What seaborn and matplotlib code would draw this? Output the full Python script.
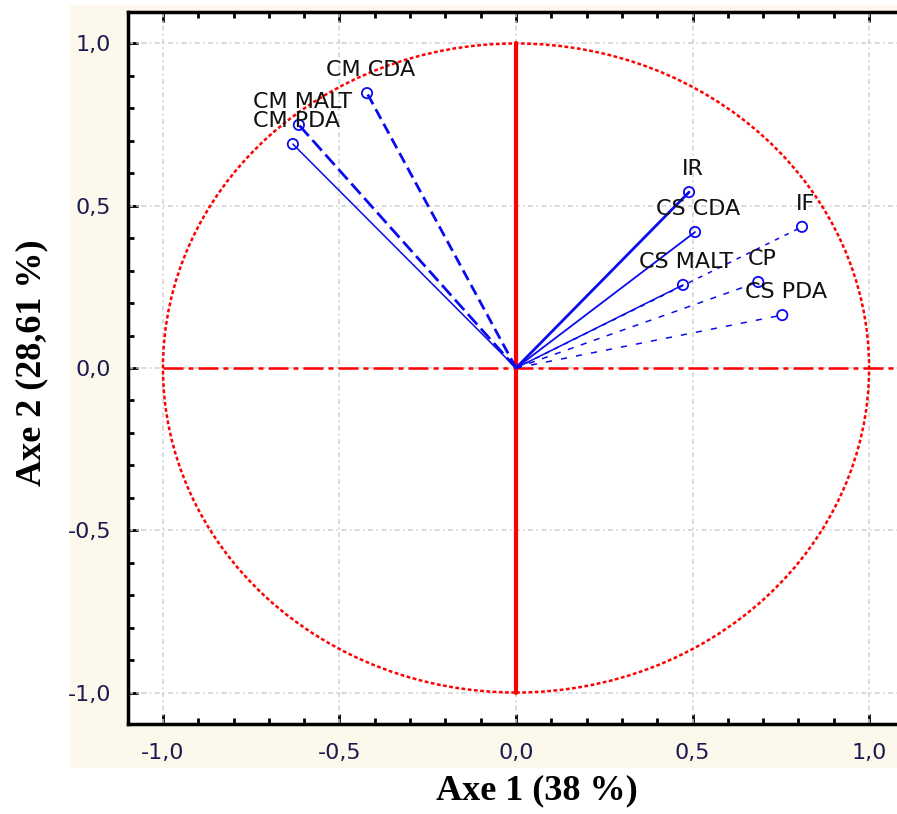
import numpy as np
import pandas as pd
import matplotlib
matplotlib.use("Agg")
import matplotlib.pyplot as plt
from matplotlib.patches import Circle, Rectangle
from matplotlib.ticker import MultipleLocator, FuncFormatter
import seaborn as sns

# ---- data ----
variables = ["CM CDA", "CM MALT", "CM PDA", "IR", "CS CDA", "IF", "CS MALT", "CP", "CS PDA"]
axe1 = [-0.422, -0.615, -0.632, 0.490, 0.507, 0.810, 0.473, 0.686, 0.754]
axe2 = [0.847, 0.749, 0.690, 0.542, 0.419, 0.435, 0.256, 0.265, 0.163]
tick_values = [-1.0, -0.5, 0.0, 0.5, 1.0]
xlabel = "Axe 1 (38 %)"
ylabel = "Axe 2 (28,61 %)"

# ---- styles ----
line_styles = {
    "CM CDA": ((0, (4, 2)), 2.0),
    "CM MALT": ((0, (5, 2)), 2.0),
    "CM PDA": ("-", 1.1),
    "IR": ("-", 2.0),
    "CS CDA": ("-", 1.3),
    "IF": ((0, (3, 4)), 1.1),
    "CS MALT": ("-", 1.1),
    "CP": ((0, (4, 5)), 1.1),
    "CS PDA": ((0, (4, 6)), 1.1),
}
BLUE = "#0a0af0"
RED = "#ff0000"

sns.set_style("ticks")
plt.rcParams["font.family"] = ["DejaVu Sans"]

fig = plt.figure(figsize=(8.97, 8.14), dpi=100)
fig.patch.set_facecolor("white")
fig.patches.append(Rectangle((70 / 897, 46 / 814), 1 - 70 / 897, (809 - 46) / 814,
                             transform=fig.transFigure, facecolor="#fdf8ec",
                             edgecolor="none", zorder=-10))

ax = fig.add_axes([128 / 897, 90 / 814, (897 - 128) / 897, (802 - 90) / 814])
ax.set_zorder(1)
ax.set_facecolor("white")
ax.set_xlim(-1.099, 1.079)
ax.set_ylim(-1.097, 1.097)

# grid
for v in tick_values:
    ax.axvline(v, color="#d2d2d2", lw=1.2, ls=(0, (3, 2, 1, 2)), zorder=1)
    ax.axhline(v, color="#d2d2d2", lw=1.2, ls=(0, (3, 2, 1, 2)), zorder=1)

# unit circle and axes lines
ax.add_patch(Circle((0, 0), 1.0, fill=False, edgecolor=RED, lw=1.8,
                    ls=(0, (1.5, 1)), zorder=2))
ax.plot([-1.0, 1.1], [0, 0], color=RED, lw=1.8, ls=(0, (8, 2, 2, 2)), zorder=2)
ax.plot([0, 0], [-1.0, 1.0], color=RED, lw=3, zorder=2)

# vectors
df = pd.DataFrame({"var": variables, "axe1": axe1, "axe2": axe2})
for name, x, y in zip(variables, axe1, axe2):
    ls, lw = line_styles[name]
    seg = pd.DataFrame({"x": [0.0, x], "y": [0.0, y]})
    sns.lineplot(data=seg, x="x", y="y", ax=ax, color=BLUE, lw=lw,
                 sort=False, estimator=None, zorder=3)
    ax.lines[-1].set_linestyle(ls)

sns.scatterplot(data=df, x="axe1", y="axe2", ax=ax, marker="o", s=55,
                facecolor="none", edgecolor=BLUE, linewidth=1.3, zorder=4)

for name, x, y in zip(variables, axe1, axe2):
    ax.annotate(name, (x, y), xytext=(2.5, 16.5), textcoords="offset points",
                ha="center", va="center", fontsize=16, color="#111111", zorder=5)

# ticks and spines
fmt = FuncFormatter(lambda v, p: f"{v:.1f}".replace(".", ","))
for axis in (ax.xaxis, ax.yaxis):
    axis.set_major_locator(MultipleLocator(0.5))
    axis.set_minor_locator(MultipleLocator(0.1))
    axis.set_major_formatter(fmt)
ax.tick_params(which="both", direction="in", top=True, right=False,
               color="black", width=2)
ax.tick_params(which="major", length=7, labelsize=16, labelcolor="#1c1c50")
ax.tick_params(which="minor", length=4)
ax.tick_params(axis="x", pad=14)
ax.tick_params(axis="y", pad=12)
for side in ("left", "bottom", "top"):
    ax.spines[side].set_linewidth(2.5)
    ax.spines[side].set_color("black")
ax.spines["right"].set_visible(False)

ax.set_xlabel(xlabel, family="Liberation Serif", fontweight="bold", fontsize=26, color="black")
ax.set_ylabel(ylabel, family="Liberation Serif", fontweight="bold", fontsize=26, color="black")
ax.xaxis.label.set_va("center")
ax.yaxis.label.set_va("center")
ax.xaxis.set_label_coords((537 - 128) / 769, (724 - 791) / 712)
ax.yaxis.set_label_coords((32 - 128) / 769, (724 - 363) / 712)

fig.savefig("out.png", dpi=100)
